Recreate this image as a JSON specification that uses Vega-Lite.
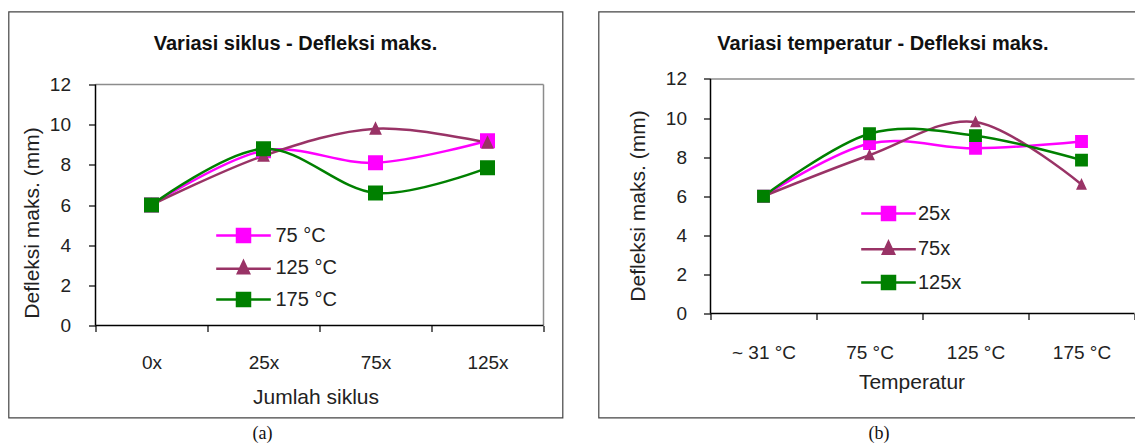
{
  "$schema": "https://vega.github.io/schema/vega-lite/v6.json",
  "padding": {"left": 7.5, "top": 10.5, "right": 0, "bottom": 0},
  "background": "#ffffff",
  "config": {
    "font": "Liberation Sans",
    "view": {"stroke": "#444444", "strokeWidth": 1.2},
    "legend": {
      "padding": 0,
      "symbolSize": 169,
      "symbolStrokeWidth": 2.5,
      "labelFont": "Liberation Sans",
      "labelFontSize": 20,
      "labelColor": "#222222",
      "labelLimit": 0
    }
  },
  "datasets": {
    "siklus": [
      {"Siklus": "0x", "Temperatur": "75 °C", "Defleksi": 6.0},
      {"Siklus": "0x", "Temperatur": "125 °C", "Defleksi": 6.0},
      {"Siklus": "0x", "Temperatur": "175 °C", "Defleksi": 6.0},
      {"Siklus": "25x", "Temperatur": "75 °C", "Defleksi": 8.7},
      {"Siklus": "25x", "Temperatur": "125 °C", "Defleksi": 8.45},
      {"Siklus": "25x", "Temperatur": "175 °C", "Defleksi": 8.8},
      {"Siklus": "75x", "Temperatur": "75 °C", "Defleksi": 8.1},
      {"Siklus": "75x", "Temperatur": "125 °C", "Defleksi": 9.8},
      {"Siklus": "75x", "Temperatur": "175 °C", "Defleksi": 6.6},
      {"Siklus": "125x", "Temperatur": "75 °C", "Defleksi": 9.2},
      {"Siklus": "125x", "Temperatur": "125 °C", "Defleksi": 9.1},
      {"Siklus": "125x", "Temperatur": "175 °C", "Defleksi": 7.85}
    ],
    "temperatur": [
      {"Temperatur": "~ 31 °C", "Siklus": "25x", "Defleksi": 6.0},
      {"Temperatur": "~ 31 °C", "Siklus": "75x", "Defleksi": 6.0},
      {"Temperatur": "~ 31 °C", "Siklus": "125x", "Defleksi": 6.0},
      {"Temperatur": "75 °C", "Siklus": "25x", "Defleksi": 8.7},
      {"Temperatur": "75 °C", "Siklus": "75x", "Defleksi": 8.1},
      {"Temperatur": "75 °C", "Siklus": "125x", "Defleksi": 9.2},
      {"Temperatur": "125 °C", "Siklus": "25x", "Defleksi": 8.45},
      {"Temperatur": "125 °C", "Siklus": "75x", "Defleksi": 9.8},
      {"Temperatur": "125 °C", "Siklus": "125x", "Defleksi": 9.1},
      {"Temperatur": "175 °C", "Siklus": "25x", "Defleksi": 8.8},
      {"Temperatur": "175 °C", "Siklus": "75x", "Defleksi": 6.6},
      {"Temperatur": "175 °C", "Siklus": "125x", "Defleksi": 7.85}
    ]
  },
  "spacing": 34,
  "resolve": {
    "scale": {"stroke": "independent", "fill": "independent", "shape": "independent"},
    "legend": {"stroke": "independent", "fill": "independent", "shape": "independent"}
  },
  "hconcat": [
    {
      "title": {"text": "(a)", "orient": "bottom", "anchor": "middle", "frame": "bounds", "offset": 7, "dx": -23, "font": "Liberation Serif", "fontSize": 18, "fontWeight": "normal", "color": "#111111"},
      "vconcat": [
        {
          "title": {"text": "Variasi siklus - Defleksi maks.", "orient": "top", "anchor": "middle", "frame": "group", "offset": -58, "baseline": "alphabetic", "dx": 10, "font": "Liberation Sans", "fontSize": 20, "fontWeight": "bold", "color": "#111111"},
          "width": 554,
          "height": 406,
          "data": {"name": "siklus"},
          "layer": [
            {
              "data": {"values": [{}]},
              "mark": {"type": "rule", "color": "#8c8c8c", "strokeWidth": 1.5},
              "encoding": {
                "x": {"datum": "0x", "type": "nominal", "bandPosition": 0, "scale": {"type": "band", "domain": ["0x", "25x", "75x", "125x"], "paddingInner": 0, "paddingOuter": 0.4732, "align": 0.8208}},
                "x2": {"datum": "125x", "bandPosition": 1},
                "y": {"datum": 12, "type": "quantitative", "scale": {"domain": [-4.581, 15.635], "nice": false, "zero": false}}
              }
            },
            {
              "data": {"values": [{}]},
              "mark": {"type": "rule", "color": "#8c8c8c", "strokeWidth": 1.5},
              "encoding": {
                "x": {"datum": "125x", "type": "nominal", "bandPosition": 1, "scale": {"type": "band", "domain": ["0x", "25x", "75x", "125x"], "paddingInner": 0, "paddingOuter": 0.4732, "align": 0.8208}},
                "y": {"datum": 0, "type": "quantitative", "scale": {"domain": [-4.581, 15.635], "nice": false, "zero": false}},
                "y2": {"datum": 12}
              }
            },
            {
              "data": {"values": [{}]},
              "mark": {"type": "rule", "color": "#000000", "strokeWidth": 1.5},
              "encoding": {
                "x": {"datum": "0x", "type": "nominal", "bandPosition": 0, "scale": {"type": "band", "domain": ["0x", "25x", "75x", "125x"], "paddingInner": 0, "paddingOuter": 0.4732, "align": 0.8208}},
                "x2": {"datum": "125x", "bandPosition": 1},
                "y": {"datum": 0, "type": "quantitative", "scale": {"domain": [-4.581, 15.635], "nice": false, "zero": false}}
              }
            },
            {
              "data": {"values": [{}]},
              "mark": {"type": "rule", "color": "#000000", "strokeWidth": 1.5},
              "encoding": {
                "x": {"datum": "0x", "type": "nominal", "bandPosition": 0, "scale": {"type": "band", "domain": ["0x", "25x", "75x", "125x"], "paddingInner": 0, "paddingOuter": 0.4732, "align": 0.8208}},
                "y": {"datum": 0, "type": "quantitative", "scale": {"domain": [-4.581, 15.635], "nice": false, "zero": false}},
                "y2": {"datum": 12}
              }
            },
            {
              "mark": {"type": "line", "interpolate": "cardinal", "strokeWidth": 2.5},
              "encoding": {
                "x": {
                  "field": "Siklus", "type": "nominal", "sort": ["0x", "25x", "75x", "125x"],
                  "scale": {"type": "band", "domain": ["0x", "25x", "75x", "125x"], "paddingInner": 0, "paddingOuter": 0.4732, "align": 0.8208},
                  "axis": {
                    "title": "Jumlah siklus", "orient": "bottom", "offset": -92, "domain": false, "grid": false,
                    "tickBand": "extent", "tickSize": 6, "tickColor": "#000000", "tickWidth": 1.2,
                    "labelAngle": 0, "labelAlign": "center", "labelPadding": 31, "labelBaseline": "middle", "labelFont": "Liberation Sans", "labelFontSize": 19, "labelColor": "#222222",
                    "titleFont": "Liberation Sans", "titleFontSize": 21, "titleFontWeight": "normal", "titleColor": "#222222",
                    "titleX": 307, "titleY": 72, "titleAlign": "center", "titleBaseline": "middle"
                  }
                },
                "y": {
                  "field": "Defleksi", "type": "quantitative",
                  "scale": {"domain": [-4.581, 15.635], "nice": false, "zero": false},
                  "axis": {
                    "title": "Defleksi maks. (mm)", "orient": "left", "offset": -87, "domain": false, "grid": false,
                    "values": [0, 2, 4, 6, 8, 10, 12], "tickSize": 7, "tickColor": "#000000", "tickWidth": 1.2,
                    "labelPadding": 18, "labelFont": "Liberation Sans", "labelFontSize": 19, "labelColor": "#222222",
                    "titleFont": "Liberation Sans", "titleFontSize": 21, "titleFontWeight": "normal", "titleColor": "#222222",
                    "titleX": -63, "titleY": 211, "titleAngle": -90, "titleAlign": "center", "titleBaseline": "middle"
                  }
                },
                "stroke": {
                  "field": "Temperatur", "type": "nominal",
                  "scale": {"domain": ["75 °C", "125 °C", "175 °C"], "range": ["#ff00ff", "#993366", "#008000"]},
                  "legend": {"orient": "none", "legendX": 225, "legendY": 214, "title": null, "rowPadding": 8.5, "labelOffset": 22}
                }
              }
            },
            {
              "mark": {"type": "point", "filled": true, "strokeWidth": 0, "size": 225, "opacity": 1},
              "encoding": {
                "x": {"field": "Siklus", "type": "nominal", "sort": ["0x", "25x", "75x", "125x"], "scale": {"type": "band", "domain": ["0x", "25x", "75x", "125x"], "paddingInner": 0, "paddingOuter": 0.4732, "align": 0.8208}},
                "y": {"field": "Defleksi", "type": "quantitative", "scale": {"domain": [-4.581, 15.635], "nice": false, "zero": false}},
                "fill": {
                  "field": "Temperatur", "type": "nominal",
                  "scale": {"domain": ["75 °C", "125 °C", "175 °C"], "range": ["#ff00ff", "#993366", "#008000"]},
                  "legend": {"orient": "none", "legendX": 225, "legendY": 214, "title": null, "rowPadding": 8.5, "labelOffset": 22}
                },
                "stroke": {
                  "field": "Temperatur", "type": "nominal",
                  "legend": {"orient": "none", "legendX": 225, "legendY": 214, "title": null, "rowPadding": 8.5, "labelOffset": 22}
                },
                "shape": {
                  "field": "Temperatur", "type": "nominal",
                  "scale": {"domain": ["75 °C", "125 °C", "175 °C"], "range": ["M-4.2,0H4.2M-1,-1H1V1H-1Z", "M-4.2,0.1H4.2M0,-1L0.85,0.8H-0.85Z", "M-4.2,0H4.2M-1,-1H1V1H-1Z"]},
                  "legend": {"orient": "none", "legendX": 225, "legendY": 214, "title": null, "rowPadding": 8.5, "labelOffset": 22}
                }
              }
            }
          ]
        }
      ]
    },
    {
      "title": {"text": "(b)", "orient": "bottom", "anchor": "middle", "frame": "bounds", "offset": 7, "dx": 12, "font": "Liberation Serif", "fontSize": 18, "fontWeight": "normal", "color": "#111111"},
      "vconcat": [
        {
          "title": {"text": "Variasi temperatur - Defleksi maks.", "orient": "top", "anchor": "middle", "frame": "group", "offset": -58, "baseline": "alphabetic", "dx": 16, "font": "Liberation Sans", "fontSize": 20, "fontWeight": "bold", "color": "#111111"},
          "width": 537,
          "height": 406,
          "data": {"name": "temperatur"},
          "layer": [
            {
              "data": {"values": [{}]},
              "mark": {"type": "rule", "color": "#8c8c8c", "strokeWidth": 1.5},
              "encoding": {
                "x": {"datum": "~ 31 °C", "type": "nominal", "bandPosition": 0, "scale": {"type": "band", "domain": ["~ 31 °C", "75 °C", "125 °C", "175 °C"], "paddingInner": 0, "paddingOuter": 0.533, "align": 0.9912}},
                "x2": {"datum": "175 °C", "bandPosition": 1},
                "y": {"datum": 12, "type": "quantitative", "scale": {"domain": [-5.322, 15.454], "nice": false, "zero": false}}
              }
            },
            {
              "data": {"values": [{}]},
              "mark": {"type": "rule", "color": "#000000", "strokeWidth": 1.5},
              "encoding": {
                "x": {"datum": "~ 31 °C", "type": "nominal", "bandPosition": 0, "scale": {"type": "band", "domain": ["~ 31 °C", "75 °C", "125 °C", "175 °C"], "paddingInner": 0, "paddingOuter": 0.533, "align": 0.9912}},
                "x2": {"datum": "175 °C", "bandPosition": 1},
                "y": {"datum": 0, "type": "quantitative", "scale": {"domain": [-5.322, 15.454], "nice": false, "zero": false}}
              }
            },
            {
              "data": {"values": [{}]},
              "mark": {"type": "rule", "color": "#000000", "strokeWidth": 1.5},
              "encoding": {
                "x": {"datum": "~ 31 °C", "type": "nominal", "bandPosition": 0, "scale": {"type": "band", "domain": ["~ 31 °C", "75 °C", "125 °C", "175 °C"], "paddingInner": 0, "paddingOuter": 0.533, "align": 0.9912}},
                "y": {"datum": 0, "type": "quantitative", "scale": {"domain": [-5.322, 15.454], "nice": false, "zero": false}},
                "y2": {"datum": 12}
              }
            },
            {
              "mark": {"type": "line", "interpolate": "cardinal", "strokeWidth": 2.5},
              "encoding": {
                "x": {
                  "field": "Temperatur", "type": "nominal", "sort": ["~ 31 °C", "75 °C", "125 °C", "175 °C"],
                  "scale": {"type": "band", "domain": ["~ 31 °C", "75 °C", "125 °C", "175 °C"], "paddingInner": 0, "paddingOuter": 0.533, "align": 0.9912},
                  "axis": {
                    "title": "Temperatur", "orient": "bottom", "offset": -104, "domain": false, "grid": false,
                    "tickBand": "extent", "tickSize": 6, "tickColor": "#000000", "tickWidth": 1.2,
                    "labelAngle": 0, "labelAlign": "center", "labelPadding": 33, "labelBaseline": "middle", "labelFont": "Liberation Sans", "labelFontSize": 19, "labelColor": "#222222",
                    "titleFont": "Liberation Sans", "titleFontSize": 21, "titleFontWeight": "normal", "titleColor": "#222222",
                    "titleX": 313, "titleY": 69, "titleAlign": "center", "titleBaseline": "middle"
                  }
                },
                "y": {
                  "field": "Defleksi", "type": "quantitative",
                  "scale": {"domain": [-5.322, 15.454], "nice": false, "zero": false},
                  "axis": {
                    "title": "Defleksi maks. (mm)", "orient": "left", "offset": -112, "domain": false, "grid": false,
                    "values": [0, 2, 4, 6, 8, 10, 12], "tickSize": 7, "tickColor": "#000000", "tickWidth": 1.2,
                    "labelPadding": 17, "labelFont": "Liberation Sans", "labelFontSize": 19, "labelColor": "#222222",
                    "titleFont": "Liberation Sans", "titleFontSize": 21, "titleFontWeight": "normal", "titleColor": "#222222",
                    "titleX": -72, "titleY": 194, "titleAngle": -90, "titleAlign": "center", "titleBaseline": "middle"
                  }
                },
                "stroke": {
                  "field": "Siklus", "type": "nominal",
                  "scale": {"domain": ["25x", "75x", "125x"], "range": ["#ff00ff", "#993366", "#008000"]},
                  "legend": {"orient": "none", "legendX": 280, "legendY": 192, "title": null, "rowPadding": 11, "labelOffset": 19.5}
                }
              }
            },
            {
              "mark": {"type": "point", "filled": true, "strokeWidth": 0, "size": 165, "opacity": 1},
              "encoding": {
                "x": {"field": "Temperatur", "type": "nominal", "sort": ["~ 31 °C", "75 °C", "125 °C", "175 °C"], "scale": {"type": "band", "domain": ["~ 31 °C", "75 °C", "125 °C", "175 °C"], "paddingInner": 0, "paddingOuter": 0.533, "align": 0.9912}},
                "y": {"field": "Defleksi", "type": "quantitative", "scale": {"domain": [-5.322, 15.454], "nice": false, "zero": false}},
                "fill": {
                  "field": "Siklus", "type": "nominal",
                  "scale": {"domain": ["25x", "75x", "125x"], "range": ["#ff00ff", "#993366", "#008000"]},
                  "legend": {"orient": "none", "legendX": 280, "legendY": 192, "title": null, "rowPadding": 11, "labelOffset": 19.5}
                },
                "stroke": {
                  "field": "Siklus", "type": "nominal",
                  "legend": {"orient": "none", "legendX": 280, "legendY": 192, "title": null, "rowPadding": 11, "labelOffset": 19.5}
                },
                "shape": {
                  "field": "Siklus", "type": "nominal",
                  "scale": {"domain": ["25x", "75x", "125x"], "range": ["M-4.2,0H4.2M-1,-1H1V1H-1Z", "M-4.2,0.1H4.2M0,-1L0.85,0.8H-0.85Z", "M-4.2,0H4.2M-1,-1H1V1H-1Z"]},
                  "legend": {"orient": "none", "legendX": 280, "legendY": 192, "title": null, "rowPadding": 11, "labelOffset": 19.5}
                }
              }
            }
          ]
        }
      ]
    }
  ]
}
